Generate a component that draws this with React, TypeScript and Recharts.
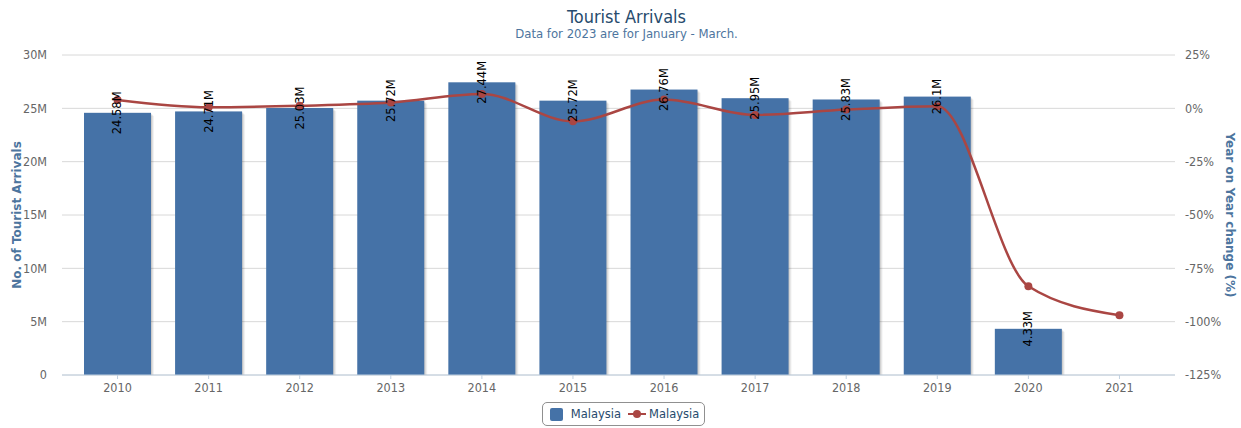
import React from 'react';
import { ComposedChart, Bar, Line, XAxis, YAxis, CartesianGrid, Legend, LabelList } from 'recharts';

const years = ['2010', '2011', '2012', '2013', '2014', '2015', '2016', '2017', '2018', '2019', '2020', '2021'];
// tourist arrivals, millions
const arrivals = [24.58, 24.71, 25.03, 25.72, 27.44, 25.72, 26.76, 25.95, 25.83, 26.1, 4.33, 0];
// year on year change, %
const yoyChange = [3.9, 0.5, 1.2, 2.7, 6.7, -6.1, 4.1, -3.1, -0.6, 1.0, -83.4, -97.0];

const leftTicks = [0, 5, 10, 15, 20, 25, 30];
const rightTicks = [-125, -100, -75, -50, -25, 0, 25];

const BAR_COLOR = '#4572A7';
const LINE_COLOR = '#AA4643';
const NARROW = '"Liberation Sans Narrow", "DejaVu Sans Condensed", "Liberation Sans", sans-serif';
const WIDE = '"DejaVu Sans", Verdana, sans-serif';

const data = years.map((year, i) => ({ year, arrivals: arrivals[i], change: yoyChange[i] }));

const ShadowBar = (props: any) => {
  const { x, y, width, height } = props;
  if (!height || height <= 0) return null;
  return (
    <g>
      <rect x={x + 3} y={y + 3} width={width} height={Math.max(height - 3, 0)} fill="#000" fillOpacity={0.05} />
      <rect x={x + 2} y={y + 2} width={width} height={Math.max(height - 2, 0)} fill="#000" fillOpacity={0.07} />
      <rect x={x + 1} y={y + 1} width={width} height={Math.max(height - 1, 0)} fill="#000" fillOpacity={0.09} />
      <rect x={x} y={y} width={width} height={height} fill={BAR_COLOR} />
    </g>
  );
};

const BarValueLabel = (props: any) => {
  const { x, y, width, value } = props;
  if (!value) return null;
  const cx = x + width / 2;
  return (
    <text
      x={cx}
      y={y}
      transform={`rotate(-90, ${cx}, ${y})`}
      textAnchor="middle"
      dominantBaseline="central"
      fontFamily={WIDE}
      fontSize={11.5}
      fill="#000"
    >
      {`${value}M`}
    </text>
  );
};

const LeftTitle = (props: any) => {
  const { viewBox } = props;
  const x = 17;
  const y = viewBox.y + viewBox.height / 2;
  return (
    <text x={x} y={y} transform={`rotate(-90, ${x}, ${y})`} textAnchor="middle" dominantBaseline="central"
      fontFamily={WIDE} fontSize={12} fontWeight="bold" fill="#4d759e">
      No. of Tourist Arrivals
    </text>
  );
};

const RightTitle = (props: any) => {
  const { viewBox } = props;
  const x = 1230;
  const y = viewBox.y + viewBox.height / 2;
  return (
    <text x={x} y={y} transform={`rotate(90, ${x}, ${y})`} textAnchor="middle" dominantBaseline="central"
      fontFamily={WIDE} fontSize={12} fontWeight="bold" fill="#4d759e">
      Year on Year change (%)
    </text>
  );
};

const renderLegend = () => (
  <div style={{ display: 'flex', justifyContent: 'center', paddingLeft: 6 }}>
    <div
      style={{
        display: 'inline-flex',
        alignItems: 'center',
        height: 22,
        padding: '0 5px 0 7px',
        border: '1px solid #909090',
        borderRadius: 5,
        fontFamily: WIDE,
        fontSize: 11.5,
        color: '#274b6d',
        background: '#fff',
      }}
    >
      <span style={{ width: 13, height: 13, background: BAR_COLOR, borderRadius: 2, marginRight: 8 }} />
      <span style={{ marginRight: 7 }}>Malaysia</span>
      <svg width={18} height={10} style={{ marginRight: 3 }}>
        <line x1={0} y1={5} x2={18} y2={5} stroke={LINE_COLOR} strokeWidth={2} />
        <circle cx={9} cy={5} r={4} fill={LINE_COLOR} />
      </svg>
      <span>Malaysia</span>
    </div>
  </div>
);

export default function App() {
  return (
    <div style={{ position: 'absolute', left: 0, top: 0, width: 1241, height: 428, background: '#fff' }}>
      <div style={{ position: 'absolute', left: 6, top: 6, width: 1241, textAlign: 'center', fontFamily: NARROW, fontSize: 18, color: '#274b6d', lineHeight: '22px' }}>
        Tourist Arrivals
      </div>
      <div style={{ position: 'absolute', left: 6, top: 26, width: 1241, textAlign: 'center', fontFamily: NARROW, fontSize: 13, color: '#4d759e', lineHeight: '16px' }}>
        Data for 2023 are for January - March.
      </div>
      <ComposedChart width={1241} height={428} data={data} margin={{ top: 55, right: 0, bottom: 2, left: 0 }}>
        <CartesianGrid vertical={false} stroke="#D8D8D8" yAxisId="left" />
        <XAxis
          dataKey="year"
          padding={{ left: 10, right: 10 }}
          height={27}
          tickLine={{ stroke: '#C0D0E0' }}
          tickSize={4}
          tickMargin={4}
          stroke="#C0D0E0"
          tick={{ fill: '#666', fontSize: 12.5, fontFamily: NARROW }}
        />
        <YAxis
          yAxisId="left"
          orientation="left"
          width={62}
          domain={[0, 30]}
          ticks={leftTicks}
          axisLine={false}
          tickLine={false}
          tickSize={0}
          tickMargin={15}
          tickFormatter={(v: number) => (v === 0 ? '0' : `${v}M`)}
          tick={{ fill: '#666', fontSize: 12.5, fontFamily: NARROW }}
          label={<LeftTitle />}
        />
        <YAxis
          yAxisId="right"
          orientation="right"
          width={66}
          domain={[-125, 25]}
          ticks={rightTicks}
          axisLine={false}
          tickLine={false}
          tickSize={0}
          tickMargin={10}
          tickFormatter={(v: number) => `${v}%`}
          tick={{ fill: '#666', fontSize: 12.5, fontFamily: NARROW }}
          label={<RightTitle />}
        />
        <Bar yAxisId="left" dataKey="arrivals" barSize={67} shape={<ShadowBar />} isAnimationActive={false}>
          <LabelList dataKey="arrivals" content={<BarValueLabel />} />
        </Bar>
        <Line
          yAxisId="right"
          dataKey="change"
          type="monotone"
          stroke={LINE_COLOR}
          strokeWidth={2.5}
          dot={{ r: 4, fill: LINE_COLOR, stroke: LINE_COLOR, strokeWidth: 0 }}
          activeDot={false}
          isAnimationActive={false}
        />
        <Legend verticalAlign="bottom" align="center" content={renderLegend} />
      </ComposedChart>
    </div>
  );
}
